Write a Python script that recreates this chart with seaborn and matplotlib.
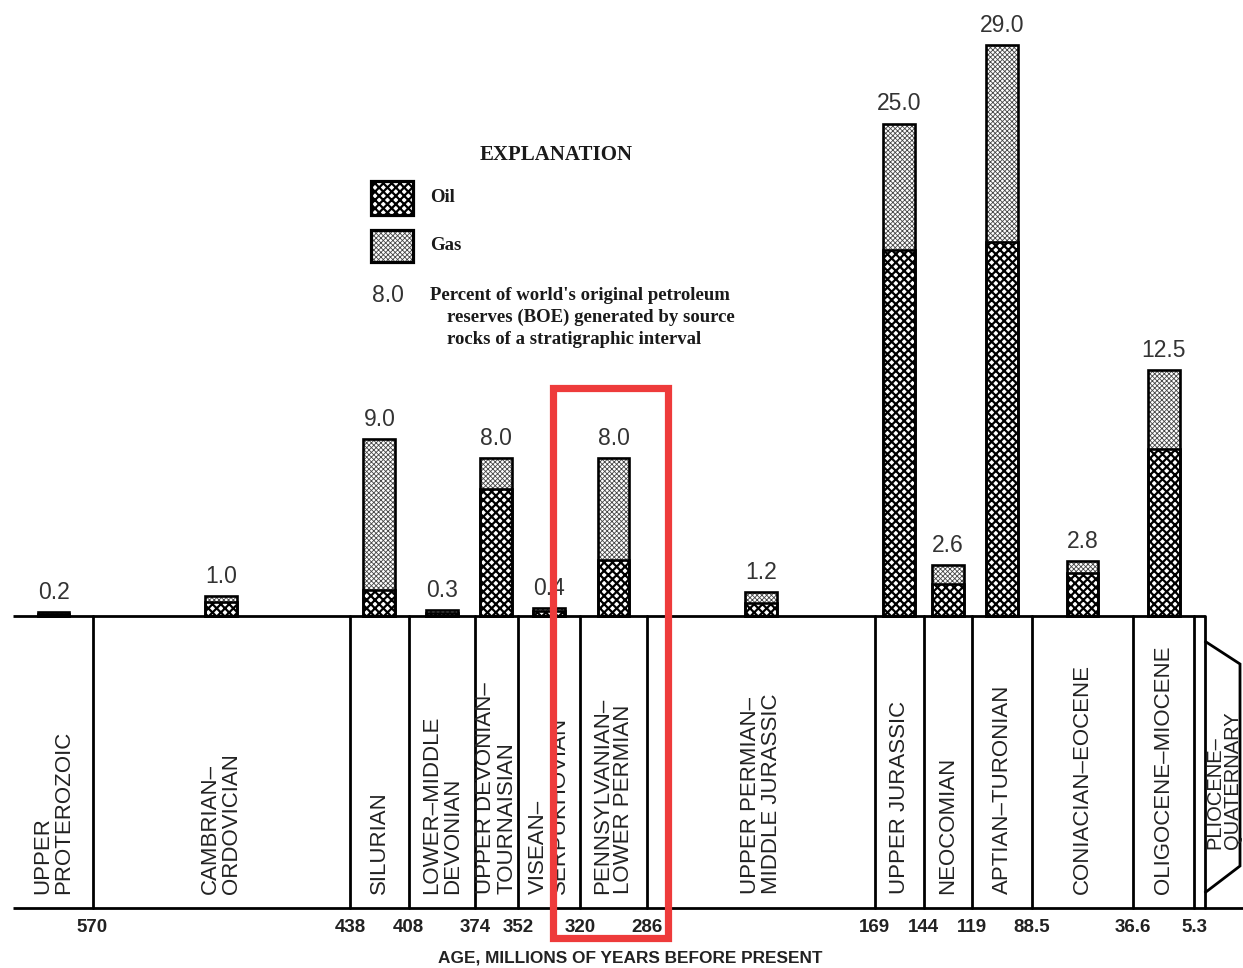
import numpy as np
import pandas as pd
import matplotlib
matplotlib.use("Agg")
import matplotlib.pyplot as plt
import seaborn as sns
from matplotlib.patches import Rectangle, Polygon

# ---------------- data ----------------
boundaries = [610, 570, 438, 408, 374, 352, 320, 286, 169, 144, 119, 88.5, 36.6, 5.3, 0]
interval_labels = [
    "UPPER\nPROTEROZOIC", "CAMBRIAN–\nORDOVICIAN", "SILURIAN", "LOWER–MIDDLE\nDEVONIAN",
    "UPPER DEVONIAN–\nTOURNAISIAN", "VISEAN–\nSERPUKHOVIAN", "PENNSYLVANIAN–\nLOWER PERMIAN",
    "UPPER PERMIAN–\nMIDDLE JURASSIC", "UPPER JURASSIC", "NEOCOMIAN", "APTIAN–TURONIAN",
    "CONIACIAN–EOCENE", "OLIGOCENE–MIOCENE", "PLIOCENE–\nQUATERNARY",
]
total_pct = [0.2, 1.0, 9.0, 0.3, 8.0, 0.4, 8.0, 1.2, 25.0, 2.6, 29.0, 2.8, 12.5]
oil_pct = [0.1, 0.7, 1.3, 0.15, 6.45, 0.25, 2.85, 0.65, 18.6, 1.6, 19.0, 2.2, 8.5]
tick_labels = ["570", "438", "408", "374", "352", "320", "286", "169", "144", "119", "88.5", "36.6", "5.3"]

# ---------------- layout helpers (pixel -> data) ----------------
W, H = 1243, 968
X0, KX = 1204.6, 1.951     # px of age 0, px per Ma
Y0, KY = 616.0, 19.69      # px of baseline, px per percent


def ax_x(px):
    return (X0 - px) / KX


def ax_y(py):
    return (Y0 - py) / KY


sns.set_theme(style="white")
plt.rcParams['font.family'] = ['Liberation Sans', 'DejaVu Sans']

fig = plt.figure(figsize=(W / 100, H / 100), dpi=100)
ax = fig.add_axes([0, 0, 1, 1])

centers = [(boundaries[i] + boundaries[i + 1]) / 2 for i in range(len(total_pct))]
df = pd.DataFrame({"age": centers, "total": total_pct, "oil": oil_pct})
bar_w = 16.3 / np.min(np.diff(np.sort(centers)))

GAS_HATCH, OIL_HATCH = "xxxxxxx", "xxxx"
GAS_C, GAS_LW = "0.28", 0.6
OIL_C, OIL_LW = "black", 1.6


def add_bars(y, hatch, hcolor, hlw):
    plt.rcParams['hatch.linewidth'] = hlw
    n0 = len(ax.patches)
    sns.barplot(data=df, x="age", y=y, native_scale=True, width=bar_w, color="white",
                edgecolor=hcolor, linewidth=0, hatch=hatch, errorbar=None, ax=ax)
    for p in ax.patches[n0:]:
        try:
            p.set_hatch_linewidth(hlw)
        except AttributeError:
            pass


add_bars("total", GAS_HATCH, GAS_C, GAS_LW)
add_bars("oil", OIL_HATCH, OIL_C, OIL_LW)
for y in ["total", "oil"]:
    sns.barplot(data=df, x="age", y=y, native_scale=True, width=bar_w, fill=False,
                color="black", linewidth=1.9, errorbar=None, ax=ax)

# value labels
for a, t in zip(centers, total_pct):
    ax.text(a, t + 0.42, f"{t:.1f}", ha="center", va="bottom", fontsize=16.5, color="#333333")

# ---------------- stratigraphic column ----------------
lw_col = 2.0
ax.plot([ax_x(13), boundaries[-1]], [0, 0], color="black", lw=lw_col, solid_capstyle="butt")
ax.plot([ax_x(13), ax_x(W)], [ax_y(908)] * 2, color="black", lw=lw_col, solid_capstyle="butt")
for b in boundaries[1:]:
    ax.plot([b, b], [0, ax_y(908)], color="black", lw=lw_col)
# pliocene-quaternary tab
tab = Polygon([(0, ax_y(641)), (ax_x(1240), ax_y(664)), (ax_x(1240), ax_y(866)),
               (0, ax_y(893))], closed=False, fill=False, edgecolor="black", lw=lw_col)
ax.add_patch(tab)

label_x = [(boundaries[i] + boundaries[i + 1]) / 2 for i in range(len(interval_labels) - 1)]
label_x.append(ax_x(1223.5))
label_y = [ax_y(894)] * (len(interval_labels) - 1) + [ax_y(849)]
label_fs = [16] * (len(interval_labels) - 1) + [14.5]
label_ls = [1.0] * (len(interval_labels) - 1) + [0.92]
for xx, yy, lab, fs, ls in zip(label_x, label_y, interval_labels, label_fs, label_ls):
    ax.text(xx, yy, lab, rotation=90, ha="center", va="bottom", multialignment="left",
            fontsize=fs, linespacing=ls, color="#222222")

for b, lab in zip(boundaries[1:-1], tick_labels):
    ax.text(b, ax_y(927), lab, ha="center", va="center", fontsize=13.5, fontweight="bold",
            color="#222222")
ax.text(ax_x(630), ax_y(958), "AGE, MILLIONS OF YEARS BEFORE PRESENT", ha="center", va="center",
        fontsize=12.4, fontweight="bold", color="#222222")

# ---------------- explanation ----------------
serif = ['Liberation Serif', 'DejaVu Serif']
ax.text(ax_x(556), ax_y(155), "EXPLANATION", ha="center", va="center", fontsize=15,
        fontweight="bold", family=serif, color="#1a1a1a")
for (top, bot), hatch, hc, hlw, name in [((181, 215), OIL_HATCH, OIL_C, OIL_LW, "Oil"),
                                         ((230, 262), GAS_HATCH, GAS_C, GAS_LW, "Gas")]:
    plt.rcParams['hatch.linewidth'] = hlw
    r = Rectangle((ax_x(371), ax_y(bot)), ax_x(413) - ax_x(371), ax_y(top) - ax_y(bot),
                  facecolor="white", edgecolor=hc, lw=0, hatch=hatch)
    try:
        r.set_hatch_linewidth(hlw)
    except AttributeError:
        pass
    ax.add_patch(r)
    ax.add_patch(Rectangle((ax_x(371), ax_y(bot)), ax_x(413) - ax_x(371), ax_y(top) - ax_y(bot),
                           fill=False, edgecolor="black", lw=2.3))
    ax.text(ax_x(430), ax_y((top + bot) / 2), name, ha="left", va="center", fontsize=13.5,
            fontweight="bold", family=serif, color="#1a1a1a")

ax.text(ax_x(372), ax_y(295), "8.0", ha="left", va="center", fontsize=16.5, color="#333333")
for px, py, s in [(430, 295, "Percent of world's original petroleum"),
                  (447, 317, "reserves (BOE) generated by source"),
                  (447, 340, "rocks of a stratigraphic interval")]:
    ax.text(ax_x(px), ax_y(py), s, ha="left", va="center", fontsize=13.5, fontweight="bold",
            family=serif, color="#1a1a1a")

# ---------------- highlight ----------------
ax.add_patch(Rectangle((ax_x(668), ax_y(938)), ax_x(553) - ax_x(668), ax_y(388) - ax_y(938),
                       fill=False, edgecolor="#ee3b3b", lw=5.2, zorder=10))

ax.set_xlim(ax_x(0), ax_x(W))
ax.set_ylim(ax_y(H), ax_y(0))
ax.set_axis_off()
fig.savefig("out.png", dpi=100)
